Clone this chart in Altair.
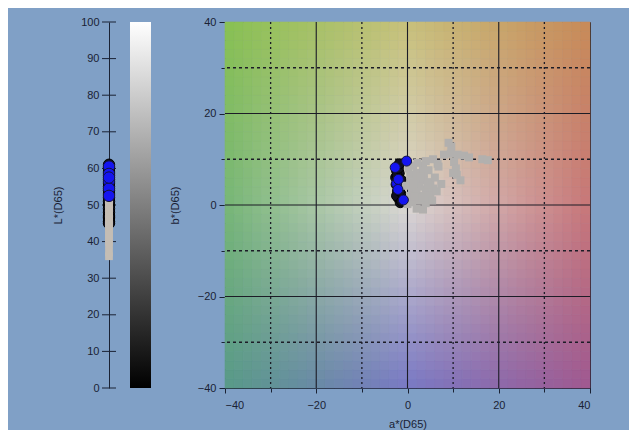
import altair as alt
import pandas as pd

# ---------------- data ----------------
# gray squares (a*, b*, L*)
gray_a = [9.0, 9.6, 8.0, 9.5, 11.0, 12.4, 13.5, 10.2, 10.6, 10.8, 11.6, 10.0, 16.4, 17.6,
          4.0, 5.6, 6.6, 3.4, 0.2, 1.2, 2.2, 0.6, 2.0, 3.6, 4.6, 0.6, 2.0, 3.6, 5.0, 6.0,
          1.0, 2.6, 4.0, 5.6, 0.6, 2.0, 3.6, 5.0, 6.4, 1.0, 2.6, 4.0, 5.4, 2.0, 3.4,
          -0.4, 1.4, 2.8, 4.4, 6.8, 7.4, 3.0, 1.6, 0.0]
gray_b = [13.6, 12.8, 11.0, 11.2, 11.0, 10.8, 10.4, 9.4, 8.0, 6.6, 5.4, 7.0, 10.0, 9.8,
          9.6, 10.0, 9.0, 8.6, 8.0, 8.6, 9.2, 6.6, 7.0, 7.0, 7.6, 5.0, 5.6, 5.4, 5.0, 6.0,
          3.6, 4.0, 3.4, 3.6, 2.0, 2.6, 2.0, 2.0, 3.0, 0.6, 1.0, 0.4, 1.0, -0.8, -1.0,
          4.2, 4.8, 6.2, 4.4, 8.4, 4.6, 1.6, 1.8, 0.2]
gray_L = [49, 48, 50, 47, 46, 49, 45, 48, 44, 47, 46, 50, 43, 42,
          51, 49, 48, 50, 51, 50, 49, 48, 47, 46, 45, 50, 49, 48, 47, 46,
          45, 44, 43, 42, 48, 47, 46, 45, 41, 44, 43, 40, 39, 37, 36,
          50, 49, 47, 46, 44, 43, 42, 41, 40]

# dark circles
black_a = [-2.4, -2.6, -2.5, -2.2, -2.0, -1.6, -2.1, -1.8, -2.3, -1.9, -1.5, -1.2, -1.4, -2.0, -2.4, -1.7, -1.3, -1.8]
black_b = [7.5, 6.0, 4.5, 3.0, 1.5, 0.5, 8.5, 7.0, 6.5, 4.0, 2.5, 1.0, 5.5, 8.0, 2.0, 3.0, 0.8, 9.0]
black_L = [60, 58, 56, 54, 52, 50, 61, 59, 57, 55, 53, 51, 49, 48, 47, 46.5, 45.5, 45]

# blue circles
blue_a = [-0.2, -2.7, -2.4, -2.1, -0.9, -2.0]
blue_b = [9.6, 8.2, 4.7, 3.4, 1.1, 5.6]
blue_L = [60.5, 58.5, 56.5, 54.5, 52.5, 57.5]

# axes
L_ticks = [0, 10, 20, 30, 40, 50, 60, 70, 80, 90, 100]
ab_ticks = [-40, -20, 0, 20, 40]
major_grid = [-20, 0, 20]
minor_grid = [-30, -10, 10, 30]

# background colour control points (rows b* = 40, 0, -40; cols a* = -40, 0, 40)
bg_colors = [["#88c152", "#c8c07a", "#c88a58"],
             ["#76b676", "#dcd8d4", "#c87678"],
             ["#589a88", "#7878c4", "#a05890"]]

# ---------------- style ----------------
BG = "#80a0c6"
INK = "#1a2234"
FONT = "Liberation Sans"


def _rgb(h):
    return [int(h[i:i + 2], 16) for i in (1, 3, 5)]


def _mix(c0, c1, t):
    return [c0[k] + (c1[k] - c0[k]) * t for k in range(3)]


def bg_color(a, b):
    tx = (a + 40) / 40.0
    ty = (40 - b) / 40.0
    i = min(int(tx), 1)
    j = min(int(ty), 1)
    fx, fy = tx - i, ty - j
    top = _mix(_rgb(bg_colors[j][i]), _rgb(bg_colors[j][i + 1]), fx)
    bot = _mix(_rgb(bg_colors[j + 1][i]), _rgb(bg_colors[j + 1][i + 1]), fx)
    c = _mix(top, bot, fy)
    return "#%02x%02x%02x" % tuple(int(round(v)) for v in c)


step = 2
cells = []
for a0 in range(-40, 40, step):
    for b0 in range(-40, 40, step):
        cells.append({"a0": a0, "a1": a0 + step, "b0": b0, "b1": b0 + step,
                      "c": bg_color(a0 + step / 2, b0 + step / 2)})
bg_df = pd.DataFrame(cells)

gray_df = pd.DataFrame({"a": gray_a, "b": gray_b, "L": gray_L})
black_df = pd.DataFrame({"a": black_a, "b": black_b, "L": black_L})
blue_df = pd.DataFrame({"a": blue_a, "b": blue_b, "L": blue_L})

# ---------------- a*b* panel ----------------
xs = alt.Scale(domain=[-40, 40], nice=False, zero=False)
ys = alt.Scale(domain=[-40, 40], nice=False, zero=False)

bg = alt.Chart(bg_df).mark_rect(strokeWidth=0.6).encode(
    x=alt.X("a0:Q", scale=xs, axis=alt.Axis(values=ab_ticks, title="a*(D65)", orient="bottom",
                                             tickSize=5, labelPadding=6, titlePadding=8)),
    x2="a1:Q",
    y=alt.Y("b0:Q", scale=ys, axis=alt.Axis(values=ab_ticks, title="b*(D65)", orient="left",
                                             tickSize=6, labelPadding=3, titlePadding=17)),
    y2="b1:Q",
    fill=alt.Fill("c:N", scale=None),
    stroke=alt.Stroke("c:N", scale=None),
)

major_df = pd.DataFrame({"v": major_grid})
minor_df = pd.DataFrame({"v": minor_grid})

vmaj = alt.Chart(major_df).mark_rule(color="#1c1c26", strokeWidth=1.1).encode(
    x=alt.X("v:Q", scale=xs, axis=None))
hmaj = alt.Chart(major_df).mark_rule(color="#1c1c26", strokeWidth=1.1).encode(
    y=alt.Y("v:Q", scale=ys, axis=None))
vmin = alt.Chart(minor_df).mark_rule(color="#1c1c26", strokeWidth=1.3, strokeDash=[2, 3]).encode(
    x=alt.X("v:Q", scale=xs, axis=alt.Axis(values=minor_grid, labels=False, domain=False,
                                            tickSize=4, title=None, orient="bottom")))
hmin = alt.Chart(minor_df).mark_rule(color="#1c1c26", strokeWidth=1.3, strokeDash=[3, 3]).encode(
    y=alt.Y("v:Q", scale=ys, axis=alt.Axis(values=minor_grid, labels=False, domain=False,
                                            tickSize=4, title=None, orient="left")))

blk_ab = alt.Chart(black_df).mark_circle(size=100, color="#10101e", stroke="#000000",
                                         strokeWidth=1, opacity=1).encode(
    x=alt.X("a:Q", scale=xs, axis=None), y=alt.Y("b:Q", scale=ys, axis=None))
gry_ab = alt.Chart(gray_df).mark_square(size=64, color="#b2b0ae", opacity=1).encode(
    x=alt.X("a:Q", scale=xs, axis=None), y=alt.Y("b:Q", scale=ys, axis=None))
blu_ab = alt.Chart(blue_df).mark_circle(size=100, color="#1414f0", stroke="#14143c",
                                        strokeWidth=1, opacity=1).encode(
    x=alt.X("a:Q", scale=xs, axis=None), y=alt.Y("b:Q", scale=ys, axis=None))

ab_panel = alt.layer(bg, vmaj, hmaj, vmin, hmin, blk_ab, gry_ab, blu_ab).resolve_axis(
    x="independent", y="independent"
).properties(width=365, height=366, view=alt.ViewBackground(stroke="#1c1c26", strokeWidth=1))

# ---------------- L* panel ----------------
Ls = alt.Scale(domain=[0, 100], nice=False, zero=False)

bar_df = pd.DataFrame({"lo": [0], "hi": [100]})
bar = alt.Chart(bar_df).mark_rect(
    fill=alt.LinearGradient(gradient="linear",
                            stops=[alt.GradientStop(color="#000000", offset=0),
                                   alt.GradientStop(color="#ffffff", offset=1)],
                            x1=0, x2=0, y1=1, y2=0)
).encode(
    y=alt.Y("lo:Q", scale=Ls, axis=alt.Axis(values=L_ticks, title="L*(D65)", orient="left",
                                             ticks=False, tickSize=0, labelPadding=10,
                                             titlePadding=17)),
    y2="hi:Q",
    x=alt.value(21), x2=alt.value(42),
)

tick_df = pd.DataFrame({"L": L_ticks})
lticks = alt.Chart(tick_df).mark_rule(color=INK, strokeWidth=1).encode(
    y=alt.Y("L:Q", scale=Ls, axis=None), x=alt.value(-7), x2=alt.value(7))

blk_L = alt.Chart(black_df).mark_circle(size=130, color="#10101e", stroke="#000000",
                                        strokeWidth=1, opacity=1).encode(
    y=alt.Y("L:Q", scale=Ls, axis=None), x=alt.value(0))
gry_L = alt.Chart(gray_df).mark_square(size=60, color="#c4bdb4", opacity=1).encode(
    y=alt.Y("L:Q", scale=Ls, axis=None), x=alt.value(0))
blu_L = alt.Chart(blue_df).mark_circle(size=130, color="#1414f0", stroke="#14143c",
                                       strokeWidth=1, opacity=1).encode(
    y=alt.Y("L:Q", scale=Ls, axis=None), x=alt.value(0))

L_panel = alt.layer(bar, lticks, blk_L, gry_L, blu_L).resolve_axis(
    y="independent").properties(width=42, height=366)

chart = alt.hconcat(L_panel, ab_panel, spacing=17).properties(
    background=BG,
    padding={"left": 44, "top": 7, "right": 37, "bottom": 0},
).configure_view(stroke=None).configure_axis(
    grid=False,
    labelFont=FONT, labelFontSize=11, labelColor=INK,
    titleFont=FONT, titleFontSize=11, titleFontWeight="normal", titleColor=INK,
    domainColor=INK, tickColor=INK,
)

chart.save("out.html", embed_options={"renderer": "svg", "actions": False})
